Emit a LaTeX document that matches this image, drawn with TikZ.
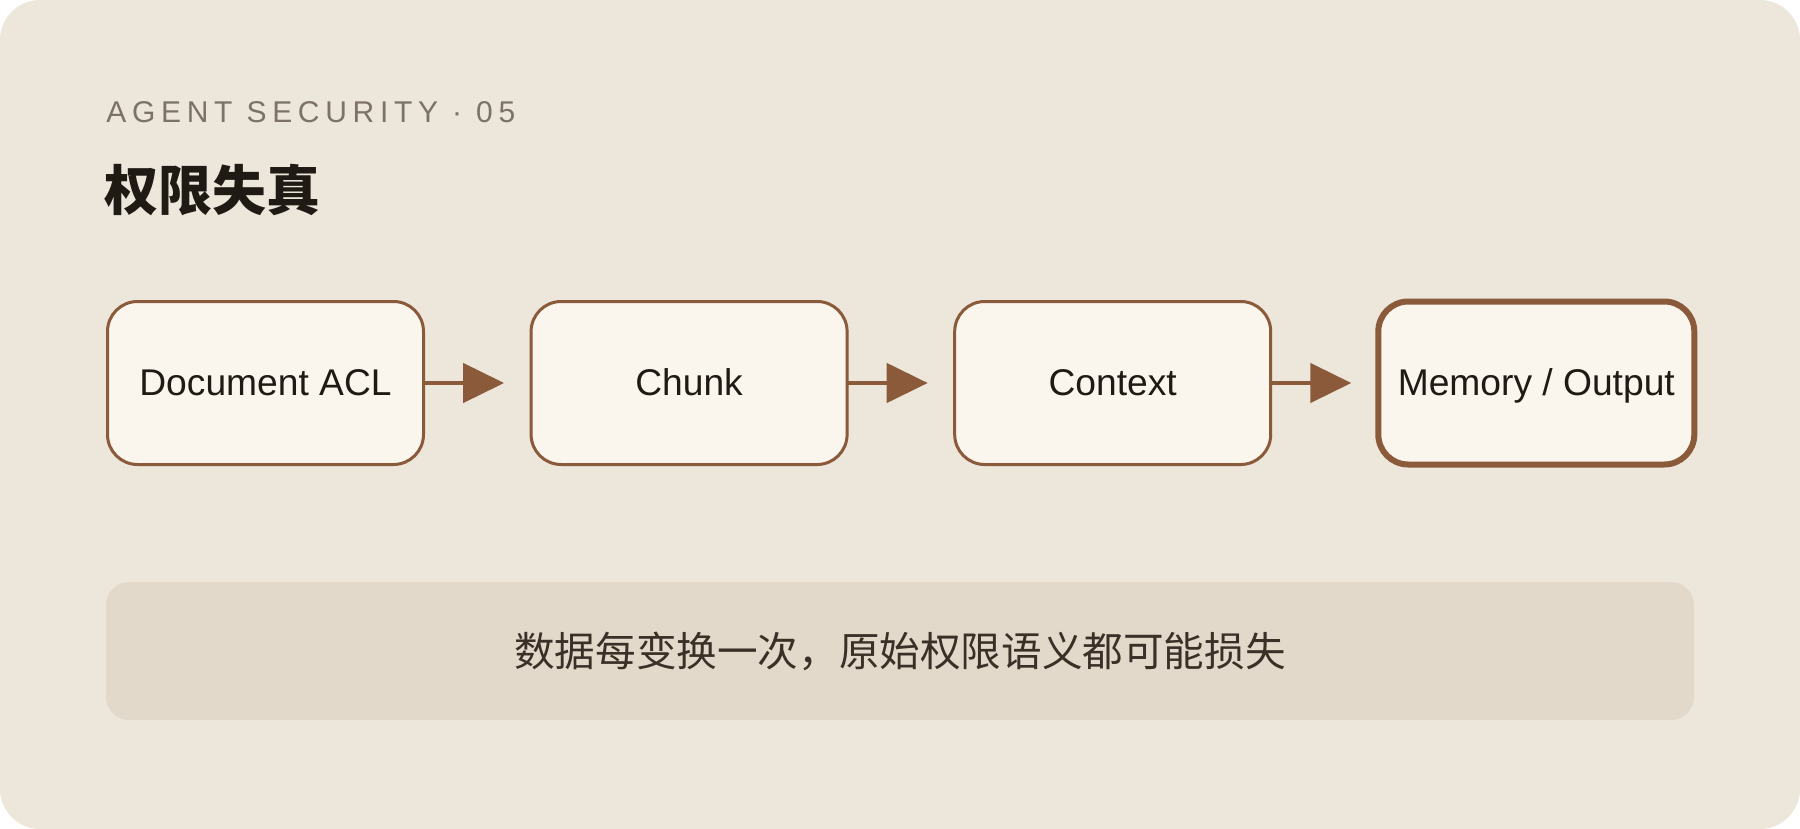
\documentclass[tikz,border=0pt]{standalone}
\usepackage{fontspec}
\setmainfont{Liberation Sans}
\newfontfamily\cjk{Noto Sans CJK SC}
\newfontfamily\kickerfont[LetterSpace=19]{Liberation Sans}
\usetikzlibrary{positioning, arrows.meta}

\definecolor{paper}{HTML}{EDE6DB}
\definecolor{cardfill}{HTML}{FAF6EE}
\definecolor{rust}{HTML}{8A5A3B}
\definecolor{bannerfill}{HTML}{E3D9CA}
\definecolor{kickergray}{HTML}{7D7266}
\definecolor{ink}{HTML}{201A15}
\definecolor{softink}{HTML}{3A3027}

\tikzset{
  stage/.style={draw=rust, line width=1.5pt, fill=cardfill, rounded corners=15pt,
    minimum width=158pt, minimum height=81.5pt, outer sep=0pt, inner sep=0pt,
    text height=12.9pt, text depth=0pt, font=\fontsize{18.6}{20}\selectfont, text=ink},
  final/.style={stage, line width=3pt},
  flow/.style={draw=rust, line width=2.3pt, shorten >=13.5pt,
    -{Triangle[length=20.5pt, width=19.5pt]}},
}

\begin{document}
\begin{tikzpicture}[x=0.5pt, y=-0.5pt]
\useasboundingbox (0,0) rectangle (1800,829);
\fill[paper, rounded corners=20pt] (0,0) rectangle (1800,829);

% heading
\node[anchor=base west, inner sep=0pt, text=kickergray, font=\kickerfont\fontsize{15}{18}\selectfont]
  (kicker) at (106,123) {AGENT SECURITY · 05};
\node[anchor=base west, inner sep=0pt, text=ink, font=\cjk\bfseries\fontsize{27}{30}\selectfont]
  (title) at (104,211) {权限失真};

% pipeline
\node[stage] (s1) at (265.5,383) {Document ACL};
\foreach \t/\o [count=\i from 1, evaluate=\i as \j using int(\i+1)] in {
  Chunk/stage,
  Context/stage,
  {Memory / Output}/final}
\node[\o, right=53.8pt of s\i] (s\j) {\t};
\foreach \i [evaluate=\i as \j using int(\i+1)] in {1,2,3}
  \draw[flow] (s\i) -- (s\j);

% note
\node[fill=bannerfill, rounded corners=11.5pt, minimum width=794pt, minimum height=69pt,
  text=softink, font=\cjk\fontsize{20.3}{24}\selectfont]
  (note) at (900,651) {\raisebox{-2.6pt}{数据每变换一次，原始权限语义都可能损失}};
\end{tikzpicture}
\end{document}
